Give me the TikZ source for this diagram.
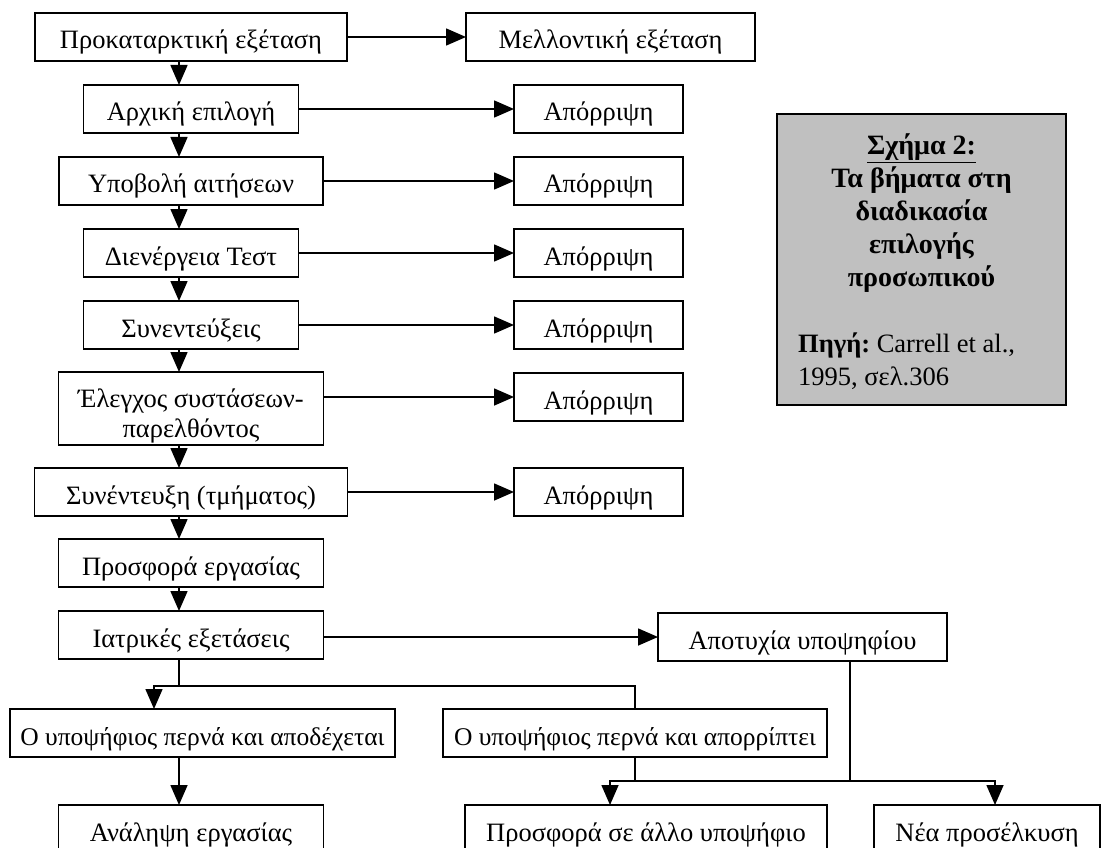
\documentclass[tikz,border=0pt]{standalone}
\usepackage{fontspec}
\setmainfont{Liberation Serif}
\usepackage{tikz}
\usetikzlibrary{positioning,arrows.meta,calc}
\definecolor{notegray}{HTML}{C0C0C0}
\frenchspacing
\tikzset{
	stage/.style={draw, line width=1.6pt, outer sep=0pt, minimum height=48pt, inner sep=0pt, text height=24pt, text depth=0pt, font=\fontsize{26.5}{30}\selectfont},
	flow/.style={-{Triangle[length=20pt,width=17pt]}, line width=1.6pt},
	link/.style={line width=1.6pt},
}
\begin{document}
\begin{tikzpicture}[x=1pt,y=-1pt] %
		\useasboundingbox (0,0) rectangle (1106,848) ;
		% Main column
		\node[stage, minimum width=312pt] (prelim) at (191,37) {Προκαταρκτική εξέταση} ;
		\node[stage, minimum width=215pt, below=24pt of prelim] (initsel) {Αρχική επιλογή} ;
		\node[stage, minimum width=264pt, below=24pt of initsel] (apply) {Υποβολή αιτήσεων} ;
		\node[stage, minimum width=215pt, below=24pt of apply] (tests) {Διενέργεια Τεστ} ;
		\node[stage, minimum width=215pt, below=24pt of tests] (interv) {Συνεντεύξεις} ;
		\node[stage, minimum width=265pt, minimum height=73pt, text height=57pt, align=center, below=23pt of interv] (refs) {Έλεγχος συστάσεων-\\παρελθόντος} ;
		\node[stage, minimum width=313pt, below=23pt of refs] (deptint) {Συνέντευξη (τμήματος)} ;
		\node[stage, minimum width=265pt, below=23pt of deptint] (offer) {Προσφορά εργασίας} ;
		\node[stage, minimum width=265pt, below=24pt of offer] (medical) {Ιατρικές εξετάσεις} ;
		\foreach \a/\b in {prelim/initsel,initsel/apply,apply/tests,tests/interv,interv/refs,refs/deptint,deptint/offer,offer/medical}
			\draw[flow] ([xshift=-12pt]\a.south) -- ([xshift=-12pt]\b.north) ;
		% Right column
		\node[stage, minimum width=289pt] (future) at (610.5,37) {Μελλοντική εξέταση} ;
		\foreach \n/\y in {1/109,2/181,3/253,4/325,5/397,6/492}
			\node[stage, minimum width=169pt] (rej\n) at (598.5,\y) {Απόρριψη} ;
		\draw[flow] (prelim.east |- future) -- (future) ;
		\draw[flow] (initsel.east |- rej1) -- (rej1) ;
		\draw[flow] (apply.east |- rej2) -- (rej2) ;
		\draw[flow] (tests.east |- rej3) -- (rej3) ;
		\draw[flow] (interv.east |- rej4) -- (rej4) ;
		\draw[flow] (refs.east |- rej5) -- (rej5) ;
		\draw[flow] (deptint.east |- rej6) -- (rej6) ;
		% Caption box
		\node[draw, line width=1.5pt, fill=notegray, minimum width=289pt, minimum height=291pt] (figbox) at (921.5,259.5) {} ;
		\node[font=\fontsize{28}{33}\selectfont\bfseries, align=center, inner sep=0pt] (figtitle) at (921.5,213) {\underline{Σχήμα 2:}\\Τα βήματα στη\\διαδικασία\\επιλογής\\προσωπικού} ;
		\node[font=\fontsize{26.5}{33}\selectfont, align=left, anchor=west, inner sep=0pt] (figsource) at (798,361.5) {\textbf{Πηγή:} Carrell et al.,\\1995, σελ.306} ;
		% Medical outcome
		\node[stage, minimum width=289pt] (fail) at (802.5,637) {Αποτυχία υποψηφίου} ;
		\node[stage, minimum width=385pt, font=\fontsize{25.5}{30}\selectfont] (accept) at (202.5,733) {Ο υποψήφιος περνά και αποδέχεται} ;
		\node[stage, minimum width=384pt, font=\fontsize{25.5}{30}\selectfont] (decline) at (635,733) {Ο υποψήφιος περνά και απορρίπτει} ;
		\draw[flow] (medical.east |- fail) -- (fail) ;
		\coordinate (fork) at (179,686) ;
		\draw[flow] ([xshift=-12pt]medical.south) -- (fork) -| ([xshift=-48.5pt]accept.north) ;
		\draw[link] (fork) -| (decline.north) ;
		% Bottom row
		\node[stage, minimum width=265pt] (takejob) at (191,829) {Ανάληψη εργασίας} ;
		\node[stage, minimum width=362pt] (another) at (646,829) {Προσφορά σε άλλο υποψήφιο} ;
		\node[stage, minimum width=226pt] (newrec) at (987,829) {Νέα προσέλκυση} ;
		\draw[flow] ([xshift=-12pt]takejob.north |- accept.south) -- ([xshift=-12pt]takejob.north) ;
		\coordinate (join) at (850,781) ;
		\draw[link] ([xshift=47.5pt]fail.south) -- (join) ;
		\draw[link] (decline.south) -- (decline.south |- join) ;
		\draw[flow] (join) -| ([xshift=-36pt]another.north) ;
		\draw[flow] (join) -| ([xshift=8pt]newrec.north) ;
	\end{tikzpicture}
\end{document}
